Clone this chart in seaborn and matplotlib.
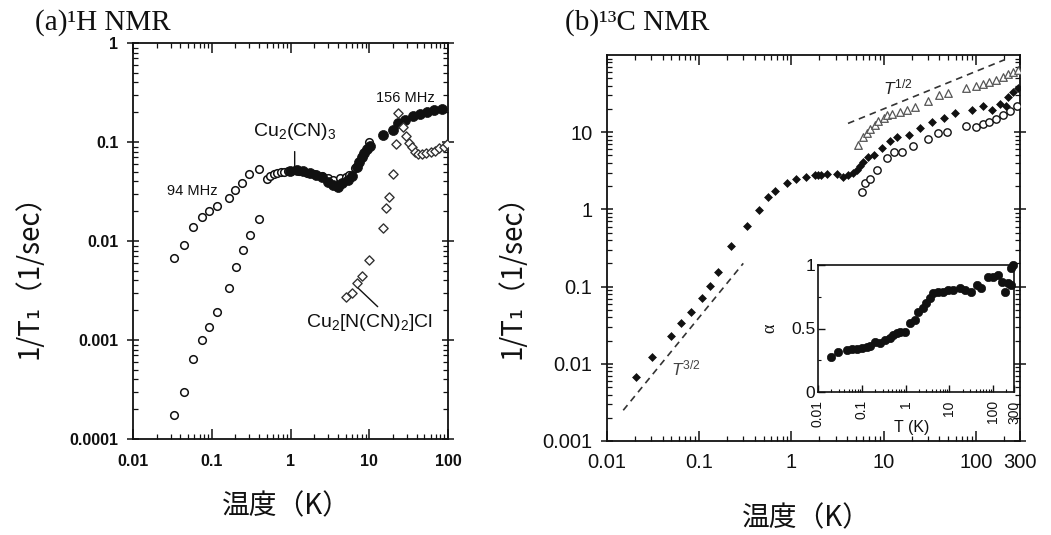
import matplotlib
matplotlib.use("Agg")
import numpy as np
import matplotlib.pyplot as plt
import seaborn as sns
from matplotlib.ticker import FixedLocator, LogLocator, NullFormatter, MultipleLocator

# ---------------- (a) 1H NMR : 1/T1 vs temperature ----------------
h94_T = [0.033, 0.044, 0.057, 0.076, 0.091, 0.117, 0.167, 0.200, 0.239, 0.301,
         0.393, 0.50, 0.55, 0.61, 0.68, 0.75, 0.83, 0.92, 1.0, 1.15, 1.3, 1.6,
         2.0, 2.5, 3.0, 3.5, 4.2, 5.0, 5.6, 6.5, 8.0, 10.0]
h94_v = [0.0067, 0.0091, 0.0139, 0.0173, 0.0199, 0.0227, 0.0272, 0.0331, 0.0385,
         0.047, 0.053, 0.042, 0.045, 0.047, 0.049, 0.050, 0.0502, 0.051, 0.0515,
         0.052, 0.051, 0.049, 0.0474, 0.0453, 0.043, 0.0415, 0.043, 0.044,
         0.0464, 0.055, 0.070, 0.100]

h_low_T = [0.0332, 0.044, 0.0573, 0.0758, 0.0913, 0.1173, 0.167, 0.201, 0.247,
           0.306, 0.399]
h_low_v = [0.000175, 0.000296, 0.000643, 0.001, 0.00136, 0.0019, 0.00335,
           0.0055, 0.0082, 0.0116, 0.0167]

h156_T = [0.98, 1.21, 1.44, 1.77, 2.11, 2.51, 3.0, 3.48, 4.0, 4.5, 5.4, 6.0,
          6.95, 7.4, 8.1, 8.6, 9.4, 10.2, 14.9, 20.0, 23.2, 28.4, 35.9, 44.0,
          54.0, 66.0, 83.0]
h156_v = [0.0509, 0.052, 0.051, 0.0487, 0.0464, 0.0443, 0.0395, 0.0368, 0.035,
          0.0385, 0.041, 0.045, 0.056, 0.063, 0.070, 0.0775, 0.085, 0.091,
          0.118, 0.132, 0.155, 0.167, 0.183, 0.19, 0.20, 0.21, 0.215]

hcl_T = [5.0, 6.0, 7.0, 8.0, 10.0, 15.0, 16.4, 17.6, 20.0, 22.0, 23.0, 27.0,
         29.0, 32.0, 35.0, 38.0, 42.0, 47.0, 53.0, 60.0, 68.0, 77.0, 88.0, 98.0]
hcl_v = [0.0027, 0.0030, 0.0038, 0.0044, 0.0065, 0.0134, 0.0214, 0.028, 0.047,
         0.096, 0.195, 0.143, 0.115, 0.097, 0.088, 0.080, 0.076, 0.075, 0.077,
         0.079, 0.082, 0.086, 0.090, 0.095]

a_xticks = [0.01, 0.1, 1, 10, 100]
a_xticklabels = ["0.01", "0.1", "1", "10", "100"]
a_yticks = [0.0001, 0.001, 0.01, 0.1, 1]
a_yticklabels = ["0.0001", "0.001", "0.01", "0.1", "1"]

# ---------------- (b) 13C NMR : 1/T1 vs temperature ----------------
c_fill_T = [0.0205, 0.031, 0.049, 0.063, 0.081, 0.106, 0.131, 0.161, 0.22, 0.33,
            0.445, 0.55, 0.66, 0.89, 1.12, 1.44, 1.8, 1.95, 2.1, 2.4, 3.1, 3.6,
            4.1, 4.7, 5.1, 5.5, 6.0, 6.8, 7.8, 9.6, 11.7, 14.0, 18.6, 24.9, 33.0,
            45.0, 59.0, 90.0, 120.0, 150.0, 180.0, 210.0, 225.0, 250.0, 285.0]
c_fill_v = [0.0068, 0.0123, 0.023, 0.0333, 0.047, 0.072, 0.102, 0.155, 0.336,
            0.61, 0.97, 1.45, 1.71, 2.22, 2.5, 2.63, 2.76, 2.8, 2.8, 2.85, 2.85,
            2.65, 2.8, 3.0, 3.2, 3.7, 4.1, 4.8, 5.1, 6.2, 7.7, 8.6, 9.3, 11.3,
            13.6, 15.5, 17.7, 19.5, 21.7, 19.5, 23.5, 21.7, 28.4, 33.0, 37.7]

c_open_T = [5.8, 6.3, 7.1, 8.5, 10.8, 12.8, 15.7, 21.0, 30.5, 39.0, 48.0, 77.0,
            99.0, 120.0, 140.0, 165.0, 195.0, 233.0, 275.0]
c_open_v = [1.7, 2.2, 2.5, 3.2, 4.7, 5.5, 5.5, 6.7, 8.2, 9.7, 10.0, 12.2, 11.6,
            12.6, 13.6, 15.0, 16.5, 19.1, 22.0]

c_tri_T = [5.3, 6.0, 6.6, 7.1, 8.0, 8.7, 10.0, 10.8, 12.2, 15.0, 18.0, 22.0,
           30.0, 40.0, 50.0, 77.0, 100.0, 120.0, 140.0, 165.0, 195.0, 225.0,
           255.0, 285.0]
c_tri_v = [6.8, 8.6, 9.8, 11.0, 12.5, 14.0, 15.5, 16.5, 17.0, 18.5, 19.5, 21.5,
           25.5, 30.5, 32.5, 37.5, 40.0, 42.0, 45.0, 48.0, 52.0, 56.0, 60.0, 64.0]

# power-law guide lines (end points)
g32_T = [0.015, 0.30]
g32_v = [0.0025, 0.20]
g12_T = [4.1, 205.0]
g12_v = [13.0, 87.0]

b_xticks = [0.01, 0.1, 1, 10, 100, 300]
b_xticklabels = ["0.01", "0.1", "1", "10", "100", "300"]
b_yticks = [0.001, 0.01, 0.1, 1, 10]
b_yticklabels = ["0.001", "0.01", "0.1", "1", "10"]

# ---------------- inset : exponent alpha vs T ----------------
al_T = [0.0195, 0.0291, 0.0452, 0.0588, 0.0765, 0.0996, 0.1296, 0.154, 0.200,
        0.26, 0.338, 0.44, 0.52, 0.63, 0.74, 0.97, 1.26, 1.65, 1.96, 2.55, 3.0,
        3.6, 4.3, 5.6, 7.2, 9.4, 12.4, 17.5, 22.7, 32.0, 42.0, 54.0, 77.0,
        100.0, 130.0, 156.0, 185.0, 220.0, 260.0, 260.0, 285.0]
al_v = [0.273, 0.317, 0.331, 0.336, 0.339, 0.344, 0.352, 0.362, 0.396, 0.383,
        0.409, 0.423, 0.449, 0.467, 0.472, 0.475, 0.541, 0.567, 0.632, 0.659,
        0.698, 0.738, 0.777, 0.790, 0.790, 0.803, 0.803, 0.817, 0.803, 0.790,
        0.843, 0.817, 0.903, 0.908, 0.921, 0.869, 0.790, 0.856, 0.843, 0.974,
        1.0]
in_xticks = [0.01, 0.1, 1, 10, 100, 300]
in_xticklabels = ["0.01", "0.1", "1", "10", "100", "300"]
in_yticks = [0, 0.5, 1]
in_yticklabels = ["0", "0.5", "1"]

# ---------------- style ----------------
sns.set_theme(style="ticks")
plt.rcParams["font.family"] = ["Liberation Sans", "Noto Sans CJK JP", "DejaVu Sans"]
plt.rcParams["mathtext.fontset"] = "custom"
plt.rcParams["mathtext.rm"] = "Liberation Sans"
plt.rcParams["mathtext.it"] = "Liberation Sans:italic"
plt.rcParams["mathtext.bf"] = "Liberation Sans:bold"
plt.rcParams["xtick.direction"] = "in"
plt.rcParams["ytick.direction"] = "in"

CJK = ["Noto Sans CJK JP", "DejaVu Sans"]
INK = "#111111"

W, H = 1051, 535
fig = plt.figure(figsize=(W / 100, H / 100), dpi=100)


def box(l, t, r, b):
    return [l / W, 1 - b / H, (r - l) / W, (b - t) / H]


ax_a = fig.add_axes(box(133, 43, 448, 439))
ax_b = fig.add_axes(box(607, 55, 1020, 441))
ax_in = fig.add_axes(box(818, 265, 1014, 392))


def frame(ax, lw=1.3):
    for s in ax.spines.values():
        s.set_linewidth(lw)
        s.set_color(INK)


def log_axes(ax, xlim, ylim, xt, xtl, yt, ytl, size, weight, xpad, ypad):
    ax.set_xscale("log")
    ax.set_yscale("log")
    ax.set_xlim(*xlim)
    ax.set_ylim(*ylim)
    ax.xaxis.set_major_locator(FixedLocator(xt))
    ax.yaxis.set_major_locator(FixedLocator(yt))
    ax.set_xticklabels(xtl, fontsize=size, fontweight=weight, color=INK)
    ax.set_yticklabels(ytl, fontsize=size, fontweight=weight, color=INK)
    ax.xaxis.set_minor_locator(LogLocator(base=10, subs=np.arange(2, 10)))
    ax.yaxis.set_minor_locator(LogLocator(base=10, subs=np.arange(2, 10)))
    ax.xaxis.set_minor_formatter(NullFormatter())
    ax.yaxis.set_minor_formatter(NullFormatter())
    ax.tick_params(which="both", top=True, right=True, color=INK)
    ax.tick_params(axis="x", which="major", length=7, width=1.1, pad=xpad)
    ax.tick_params(axis="y", which="major", length=9, width=1.1, pad=ypad,
                   direction="inout")
    ax.tick_params(which="minor", length=3.5, width=0.9)
    frame(ax)


# ---------------- panel (a) ----------------
sns.scatterplot(x=h_low_T, y=h_low_v, ax=ax_a, marker="o", s=30, color="white",
                edgecolor=INK, linewidth=1.1, zorder=3)
sns.scatterplot(x=h94_T, y=h94_v, ax=ax_a, marker="o", s=30, color="white",
                edgecolor=INK, linewidth=1.1, zorder=3)
sns.scatterplot(x=h156_T, y=h156_v, ax=ax_a, marker="o", s=52, color=INK,
                edgecolor=INK, linewidth=0.5, zorder=4)
sns.scatterplot(x=hcl_T, y=hcl_v, ax=ax_a, marker="D", s=22, color="white",
                edgecolor="#333333", linewidth=1.0, zorder=5)
log_axes(ax_a, (0.01, 100), (1e-4, 1), a_xticks, a_xticklabels, a_yticks,
         a_yticklabels, 11.5, "bold", 11, 6)
ax_a.set_xlabel("")
ax_a.set_ylabel("")

ax_a.text(28.4, 0.278, "156 MHz", fontsize=10.5, ha="center", va="center", color=INK)
ax_a.text(0.057, 0.032, "94 MHz", fontsize=10.5, ha="center", va="center", color=INK)
ax_a.annotate("", xy=(1.13, 0.0545), xytext=(1.13, 0.080),
              arrowprops=dict(arrowstyle="-", lw=1.0, color=INK,
                              shrinkA=0, shrinkB=0))
ax_a.text(1.13, 0.128, "Cu$_2$(CN)$_3$", fontsize=14, ha="center", va="center",
          color=INK)
ax_a.annotate("", xy=(6.93, 0.00345), xytext=(12.8, 0.00217),
              arrowprops=dict(arrowstyle="-", lw=1.0, color=INK,
                              shrinkA=0, shrinkB=0))
ax_a.text(9.9, 0.00149, "Cu$_2$[N(CN)$_2$]Cl", fontsize=14, ha="center",
          va="center", color=INK)

# ---------------- panel (b) ----------------
sns.lineplot(x=g32_T, y=g32_v, ax=ax_b, color="#333333", lw=1.2,
             linestyle=(0, (4, 3)), zorder=2)
sns.lineplot(x=g12_T, y=g12_v, ax=ax_b, color="#333333", lw=1.2,
             linestyle=(0, (4, 3)), zorder=2)
sns.scatterplot(x=c_open_T, y=c_open_v, ax=ax_b, marker="o", s=28, color="white",
                edgecolor=INK, linewidth=1.0, zorder=3)
sns.scatterplot(x=c_tri_T, y=c_tri_v, ax=ax_b, marker="^", s=30, color="white",
                edgecolor="#555555", linewidth=0.9, zorder=3)
sns.scatterplot(x=c_fill_T, y=c_fill_v, ax=ax_b, marker="D", s=16, color=INK,
                edgecolor=INK, linewidth=0.5, zorder=4)
log_axes(ax_b, (0.01, 300), (0.001, 100), b_xticks, b_xticklabels, b_yticks,
         b_yticklabels, 14.5, "normal", 9, 6)
ax_b.set_xlabel("")
ax_b.set_ylabel("")
ax_b.text(14.3, 37.8, "$T^{1/2}$", fontsize=12.5, ha="center", va="center",
          color="#222222")
ax_b.text(0.072, 0.0088, "$T^{3/2}$", fontsize=12.5, ha="center", va="center",
          color="#444444")

# ---------------- inset ----------------
sns.scatterplot(x=al_T, y=al_v, ax=ax_in, marker="o", s=36, color=INK,
                edgecolor=INK, linewidth=0.5, zorder=3, clip_on=False)
ax_in.set_xscale("log")
ax_in.set_xlim(0.01, 300)
ax_in.set_ylim(0, 1)
ax_in.xaxis.set_major_locator(FixedLocator(in_xticks))
ax_in.set_xticklabels(in_xticklabels, fontsize=10, rotation=90, color=INK)
ax_in.xaxis.set_minor_locator(LogLocator(base=10, subs=np.arange(2, 10)))
ax_in.xaxis.set_minor_formatter(NullFormatter())
ax_in.yaxis.set_major_locator(FixedLocator(in_yticks))
ax_in.set_yticklabels(in_yticklabels, fontsize=12.5, color=INK)
ax_in.yaxis.set_minor_locator(MultipleLocator(0.25))
ax_in.tick_params(which="major", length=5, width=1.0, color=INK)
ax_in.tick_params(axis="x", which="major", pad=6)
ax_in.tick_params(axis="y", which="major", pad=2)
ax_in.tick_params(which="minor", length=2.5, width=0.8, color=INK)
ax_in.set_xlabel("T (K)", fontsize=11.5, color=INK)
ax_in.xaxis.set_label_coords(0.48, -0.22)
ax_in.set_ylabel("α", fontsize=13, color=INK, family=["Liberation Serif"])
ax_in.yaxis.set_label_coords(-0.2, 0.5)
frame(ax_in, 1.2)

# ---------------- titles and axis labels ----------------
fig.text(35 / W, 1 - 23 / H, "(a)¹H NMR", family=["Liberation Serif"],
         fontsize=21, ha="left", va="center", color=INK)
fig.text(565 / W, 1 - 23 / H, "(b)¹³C NMR", family=["Liberation Serif"],
         fontsize=21, ha="left", va="center", color=INK)

for xc in (30, 512):
    fig.text(xc / W, 1 - 270 / H, "1/T₁（1/sec）", family=CJK, fontsize=20,
             rotation=90, ha="center", va="center", color=INK)
fig.text(286 / W, 1 - 506 / H, "温度（K）", family=CJK, fontsize=20,
         ha="center", va="center", color=INK)
fig.text(806 / W, 1 - 518 / H, "温度（K）", family=CJK, fontsize=20,
         ha="center", va="center", color=INK)

fig.savefig("out.png", dpi=100)
